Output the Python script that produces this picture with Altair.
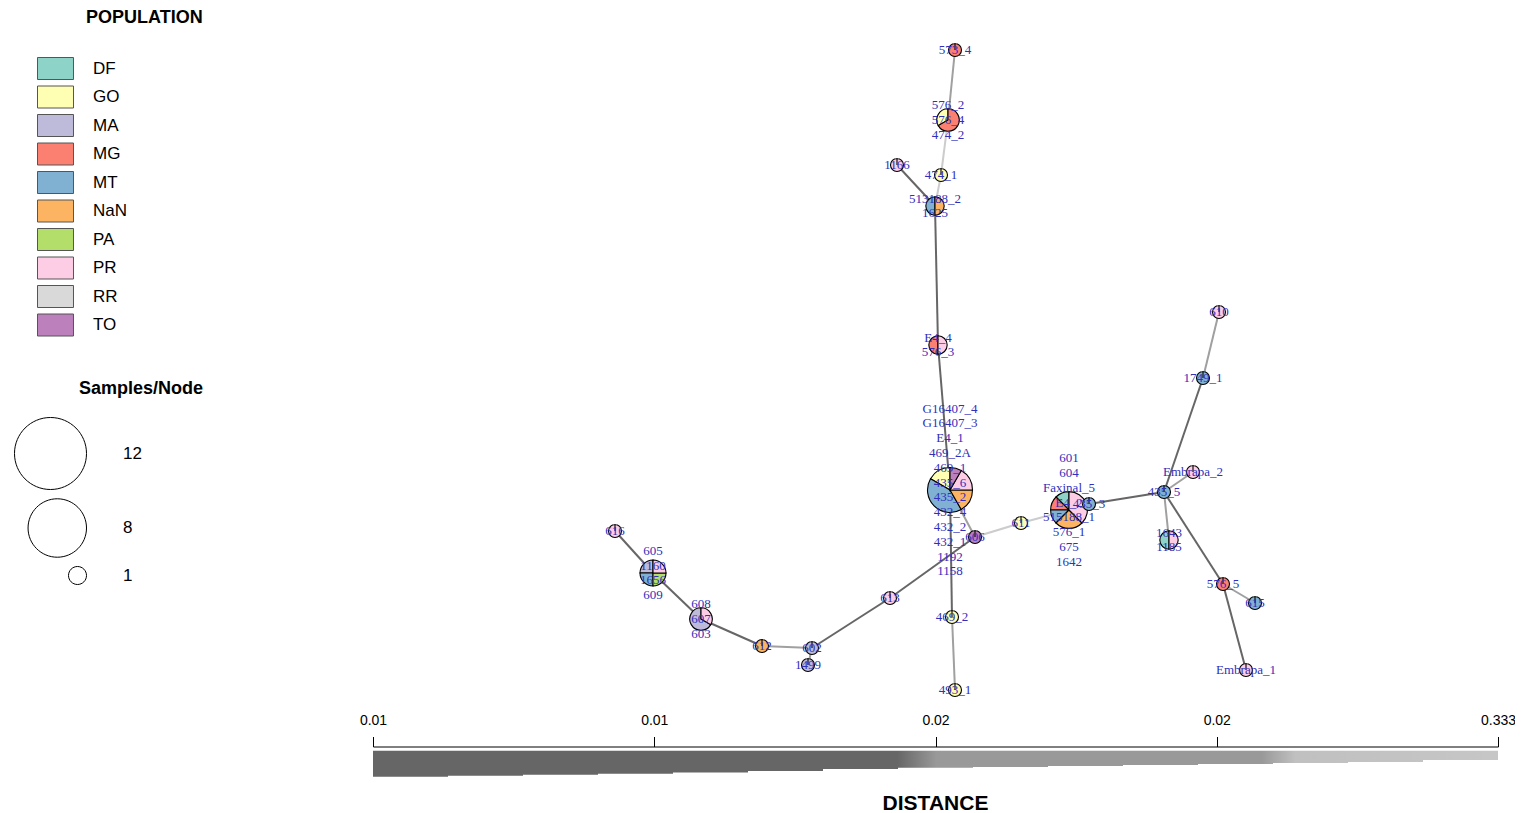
import json
import altair as alt
import pandas as pd

# ---------------- data ----------------
categories = ["DF", "GO", "MA", "MG", "MT", "NaN", "PA", "PR", "RR", "TO"]
palette = ["#8DD3C7", "#FFFFB3", "#BEBADA", "#FB8072", "#80B1D3",
           "#FDB462", "#B3DE69", "#FCCDE5", "#D9D9D9", "#BC80BD"]

node_ids = ["n1", "n2", "n3", "n4", "n5", "n6", "n7", "n8", "n9", "n10",
            "n11", "n12", "n13", "n14", "n15", "n16", "n17", "n18", "n19", "n20",
            "n21", "n22", "n23", "n24", "n25", "n26", "n27", "n28"]
# layout coordinates of the network
node_x = [955, 948, 897, 941, 935, 938, 950, 975, 1021, 1069,
          1089, 1164, 1193, 1203, 1219, 1169, 1223, 1255, 1246, 952,
          955, 890, 812, 808, 762, 701, 653, 615]
node_y = [50, 120, 165, 175, 206, 345, 490, 537, 523, 510,
          504, 492, 472, 378, 312, 540, 584, 603, 670, 617,
          690, 598, 648, 665, 646, 619, 573, 531]
node_labels = [
    ["573_4"],
    ["576_2", "576_4", "474_2"],
    ["1166"],
    ["474_1"],
    ["513188_2", "1625"],
    ["E4_4", "576_3"],
    ["G16407_4", "G16407_3", "E4_1", "469_2A", "469_1", "435_6", "435_2",
     "432_4", "432_2", "432_1", "1192", "1158"],
    ["606"],
    ["611"],
    ["601", "604", "Faxinal_5", "E4_2", "515188_1", "576_1", "675", "1642"],
    ["435_3"],
    ["435_5"],
    ["Embrapa_2"],
    ["1749_1"],
    ["610"],
    ["1643", "1185"],
    ["576_5"],
    ["615"],
    ["Embrapa_1"],
    ["469_2"],
    ["493_1"],
    ["613"],
    ["602"],
    ["1499"],
    ["612"],
    ["608", "607", "603"],
    ["605", "1160", "1656", "609"],
    ["616"],
]
node_composition = [
    {"MG": 1},
    {"GO": 1, "MG": 2},
    {"PR": 1},
    {"GO": 1},
    {"MT": 1, "NaN": 1},
    {"MG": 1, "PR": 1},
    {"GO": 2, "MT": 5, "NaN": 2, "PR": 2, "TO": 1},
    {"TO": 1},
    {"GO": 1},
    {"DF": 1, "MG": 1, "MT": 1, "NaN": 2, "PR": 3},
    {"MT": 1},
    {"MT": 1},
    {"PR": 1},
    {"MT": 1},
    {"PR": 1},
    {"DF": 1, "PR": 1},
    {"MG": 1},
    {"MT": 1},
    {"PR": 1},
    {"GO": 1},
    {"GO": 1},
    {"PR": 1},
    {"MA": 1},
    {"MA": 1},
    {"NaN": 1},
    {"MA": 2, "PR": 1},
    {"MA": 1, "MT": 1, "PA": 1, "PR": 1},
    {"PR": 1},
]

edge_from = ["n1", "n2", "n4", "n3", "n5", "n6", "n7", "n8", "n9", "n10",
             "n11", "n7", "n20", "n8", "n22", "n23", "n23", "n25", "n26", "n27",
             "n12", "n12", "n14", "n12", "n12", "n17", "n17"]
edge_to = ["n2", "n4", "n5", "n5", "n6", "n7", "n8", "n9", "n10", "n11",
           "n12", "n20", "n21", "n22", "n23", "n24", "n25", "n26", "n27", "n28",
           "n13", "n14", "n15", "n16", "n17", "n18", "n19"]
edge_distance = [0.021, 0.03, 0.03, 0.012, 0.012, 0.012, 0.021, 0.03, 0.03, 0.021,
                 0.012, 0.012, 0.022, 0.012, 0.012, 0.022, 0.021, 0.012, 0.012, 0.012,
                 0.021, 0.012, 0.021, 0.021, 0.012, 0.021, 0.012]

distance_tick_labels = ["0.01", "0.01", "0.02", "0.02", "0.333"]
distance_tick_steps = [0, 3.75, 7.5, 11.25, 15]
distance_step_width = [26, 25, 24, 23, 21.8, 20.3, 18.3, 17, 16.3, 15.3,
                       14.3, 13.3, 12.3, 11.3, 9.3]
size_legend_values = [12, 8, 1]

# ---------------- tables ----------------
slice_rows = []
label_rows = []
node_rows = []
for nid, x, y, labs, comp in zip(node_ids, node_x, node_y, node_labels, node_composition):
    total = sum(comp.values())
    node_rows.append({"node": nid, "x": x, "y": y, "samples": total})
    for i, cat in enumerate(categories):
        if cat in comp:
            slice_rows.append({"node": nid, "x": x, "y": y, "cat": cat,
                               "cat_order": i, "count": comp[cat], "total": total})
    n = len(labs)
    for k, lab in enumerate(labs):
        label_rows.append({"node": nid, "x": x, "y": y, "label": lab,
                           "k": k - (n - 1) / 2})
slices_df = pd.DataFrame(slice_rows)
labels_df = pd.DataFrame(label_rows)
nodes_df = pd.DataFrame(node_rows)

pos = nodes_df.set_index("node")
edges_df = pd.DataFrame({"src": edge_from, "dst": edge_to, "distance": edge_distance})
edges_df["x"] = edges_df["src"].map(pos["x"])
edges_df["y"] = edges_df["src"].map(pos["y"])
edges_df["x2"] = edges_df["dst"].map(pos["x"])
edges_df["y2"] = edges_df["dst"].map(pos["y"])

steps_df = pd.DataFrame({
    "step": list(range(len(distance_step_width) + 1)),
    "width": distance_step_width + [distance_step_width[-1]],
})

# ---------------- chart ----------------
W, H = 1507, 805
xs = alt.Scale(domain=[8, 1515], nice=False, zero=False)
ys = alt.Scale(domain=[8, 813], nice=False, zero=False, reverse=True)
x_axis = alt.Axis(
    title="DISTANCE", labels=False, ticks=False, domain=False, grid=False,
    orient="bottom", titleX=927, titleY=-4, titleFontSize=21,
    titleFont="Liberation Sans", titleFontWeight="bold",
    titleBaseline="alphabetic", titleColor="black", titleAnchor="start", titleAlign="center")

edges_layer = alt.Chart(edges_df).mark_rule(strokeWidth=2).encode(
    x=alt.X("x:Q", scale=xs, axis=x_axis),
    y=alt.Y("y:Q", scale=ys, axis=None),
    x2="x2:Q",
    y2="y2:Q",
    stroke=alt.Stroke("distance:Q", scale=alt.Scale(
        type="threshold", domain=[0.0175, 0.025],
        range=["#666666", "#a0a0a0", "#cccccc"]), legend=None),
)

pies_layer = alt.Chart(slices_df).transform_window(
    cum="sum(count)", groupby=["node"], sort=[alt.SortField("cat_order")],
    frame=[None, 0]
).transform_calculate(
    f0="(datum.cum - datum.count) / datum.total",
    f1="datum.cum / datum.total",
).mark_arc(stroke="black", strokeWidth=1.1).encode(
    x=alt.X("x:Q", scale=xs, axis=x_axis),
    y=alt.Y("y:Q", scale=ys, axis=None),
    theta=alt.Theta("f0:Q", scale=alt.Scale(domain=[0, 1], range=[6.283185, 0]), stack=None),
    theta2="f1:Q",
    radius=alt.Radius("total:Q", scale=alt.Scale(type="sqrt", domain=[0, 12], range=[0, 22.5])),
    fill=alt.Fill("cat:N", scale=alt.Scale(domain=categories, range=palette),
                  legend=alt.Legend(
                      orient="none", legendX=36, legendY=1, title="POPULATION",
                      titleFont="Liberation Sans", titleFontSize=18, titleFontWeight="bold",
                      titleColor="black", titleAnchor="middle", titleAlign="left",
                      titlePadding=30, symbolType="M-1.636,-1H1.636V1H-1.636Z",
                      symbolSize=484, symbolStrokeColor="#555555", symbolStrokeWidth=1,
                      symbolOpacity=1, labelFont="Liberation Sans", labelFontSize=17,
                      labelColor="black", labelOffset=26, rowPadding=1.5, padding=0)),
)

size_layer = alt.Chart(nodes_df).transform_filter("false").mark_point(
    filled=False, color="black", strokeWidth=1
).encode(
    x=alt.X("x:Q", scale=xs, axis=x_axis),
    y=alt.Y("y:Q", scale=ys, axis=None),
    size=alt.Size("samples:Q", scale=alt.Scale(domain=[1, 12], range=[324, 5184], zero=False),
                  legend=alt.Legend(
                      orient="none", legendX=8, legendY=372, title="Samples/Node",
                      values=size_legend_values, symbolOffset=34,
                      titleFont="Liberation Sans", titleFontSize=18, titleFontWeight="bold",
                      titleColor="black", titleAnchor="middle", titleAlign="left",
                      titlePadding=19, symbolType="M0,0A1,1 0 1,1 -2,0A1,1 0 1,1 0,0Z",
                      symbolStrokeColor="black", symbolStrokeWidth=1, symbolFillColor="white",
                      symbolOpacity=1, labelFont="Liberation Sans", labelFontSize=17,
                      labelColor="black", labelOffset=0, rowPadding=4, padding=0)),
)

labels_layer = alt.Chart(labels_df).transform_calculate(
    ly="datum.y + datum.k * 14.8"
).mark_text(
    font="Liberation Serif", fontSize=13, color="#3030bb", align="center", baseline="middle"
).encode(
    x=alt.X("x:Q", scale=xs, axis=x_axis),
    y=alt.Y("ly:Q", scale=ys, axis=None),
    text="label:N",
)

network = alt.layer(edges_layer, pies_layer, size_layer, labels_layer)

label_expr = "%s[round(datum.value / 3.75)]" % json.dumps(distance_tick_labels)
bar_layer = alt.Chart(steps_df).mark_area(
    interpolate="step-after",
    color=alt.Gradient(
        gradient="linear", x1=0, x2=1, y1=0, y2=0,
        stops=[alt.GradientStop(offset=0, color="#666666"),
               alt.GradientStop(offset=0.466, color="#666666"),
               alt.GradientStop(offset=0.501, color="#999999"),
               alt.GradientStop(offset=0.79, color="#999999"),
               alt.GradientStop(offset=0.82, color="#c0c0c0"),
               alt.GradientStop(offset=1, color="#c6c6c6")]),
).encode(
    x=alt.X("step:Q", scale=alt.Scale(domain=[0, 15], range=[365, 1490], nice=False, zero=False),
            axis=alt.Axis(orient="top", offset=-738.5, values=distance_tick_steps,
                          labelExpr=label_expr, tickSize=10, tickColor="black",
                          domainColor="black", labelFont="Liberation Sans", labelFontSize=14,
                          labelColor="black", labelPadding=9, grid=False, title=None,
                          labelFlush=False, labelOverlap=False, labelBound=False)),
    y=alt.Y("width:Q", scale=alt.Scale(domain=[0, 30], range=[742.7, 772.7]), axis=None),
    y2=alt.datum(0),
)

chart = alt.layer(network, bar_layer).resolve_scale(
    x="independent", y="independent"
).properties(
    width=W, height=H, padding=0, background="white",
    autosize=alt.AutoSizeParams(type="none")
).configure_view(stroke=None)

chart.save("out.html", embed_options={"renderer": "svg", "actions": False})
